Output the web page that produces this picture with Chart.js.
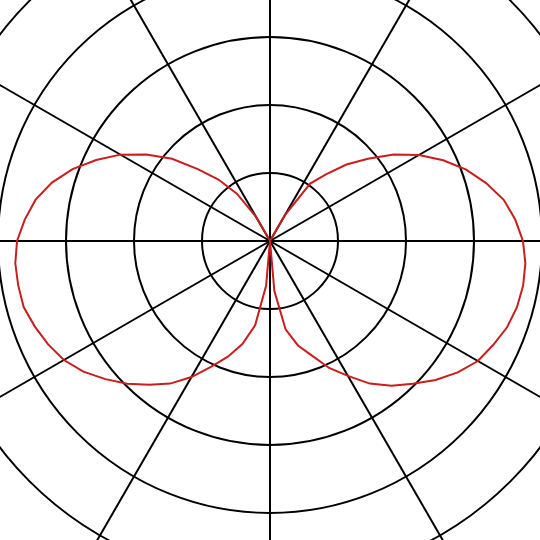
<!DOCTYPE html>
<html>
<head>
<meta charset="utf-8">
<script src="https://cdn.jsdelivr.net/npm/chart.js@4.4.1/dist/chart.umd.min.js"></script>
<style>
  html, body {
    margin: 0;
    padding: 0;
    width: 540px;
    height: 540px;
    overflow: hidden;
    background: #fff;
  }
  #wrap {
    position: relative;
    width: 540px;
    height: 540px;
    overflow: hidden;
  }
  #polar {
    position: absolute;
    left: -138px;
    top: -167px;
  }
</style>
</head>
<body>
<div id="wrap">
  <canvas id="polar" width="816" height="816"></canvas>
</div>
<script>
'use strict';

// angle in degrees, clockwise from the top, every 5 degrees
let angles = [];
for (let a = 0; a < 360; a += 5) {
  angles.push(a + '°');
}

// radius, one ring = 1
let pattern = [
  0, 0, 0, 0, 0, 0,                         // 0 - 25
  0.44, 1.03, 1.28, 1.59, 1.88, 2.22,       // 30 - 55
  2.53, 2.81, 3.07, 3.29, 3.49, 3.62,       // 60 - 85
  3.72, 3.77, 3.78, 3.76, 3.71, 3.62,       // 90 - 115
  3.53, 3.37, 3.18, 2.97, 2.78, 2.56,       // 120 - 145
  2.29, 2.06, 1.79, 1.59, 1.32, 0.74,       // 150 - 175
  0, 0.66, 1.26, 1.57, 1.81, 2.04,          // 180 - 205
  2.31, 2.56, 2.76, 2.97, 3.16, 3.35,       // 210 - 235
  3.50, 3.60, 3.68, 3.75, 3.76, 3.76,       // 240 - 265
  3.72, 3.62, 3.50, 3.32, 3.09, 2.82,       // 270 - 295
  2.54, 2.22, 1.88, 1.49, 1.18, 0.85,       // 300 - 325
  0.41, 0, 0, 0, 0, 0                       // 330 - 355
];

let ringMax = 6;
let ringStep = 1;

let gridColor = '#000';
let curveColor = '#c81e1e';

let ctx = document.getElementById('polar').getContext('2d');

// eslint-disable-next-line no-unused-vars, no-undef
const polarChart = new Chart(ctx, {
  type: 'radar',
  data: {
    labels: angles,
    datasets: [{
      data: pattern,
      borderColor: curveColor,
      borderWidth: 2,
      pointRadius: 0,
      fill: false,
      tension: 0
    }]
  },
  options: {
    responsive: false,
    animation: false,
    layout: { padding: 0 },
    plugins: {
      legend: { display: false },
      tooltip: { enabled: false }
    },
    scales: {
      r: {
        min: 0,
        max: ringMax,
        ticks: { display: false, stepSize: ringStep },
        pointLabels: { display: false },
        grid: {
          circular: true,
          color: gridColor,
          lineWidth: 2
        },
        angleLines: {
          // spokes only every 30 degrees
          color: (c) => (c.index % 6 === 0 ? gridColor : 'rgba(0,0,0,0)'),
          lineWidth: (c) => (c.index % 6 === 0 ? 2 : 0)
        }
      }
    }
  }
});
</script>
</body>
</html>
